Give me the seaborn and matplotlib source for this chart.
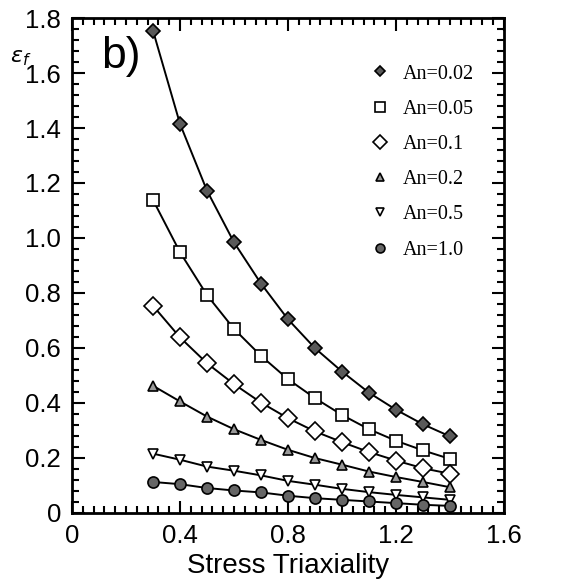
import numpy as np
import pandas as pd
import matplotlib
matplotlib.use("Agg")
import matplotlib.pyplot as plt
from matplotlib.lines import Line2D
from matplotlib.ticker import MultipleLocator, FixedFormatter, FixedLocator
import seaborn as sns

# stress triaxiality values
triax = [0.3, 0.4, 0.5, 0.6, 0.7, 0.8, 0.9, 1.0, 1.1, 1.2, 1.3, 1.4]

# failure strain for each An
an_002 = [1.754, 1.415, 1.172, 0.984, 0.834, 0.704, 0.599, 0.514, 0.437, 0.375, 0.322, 0.278]
an_005 = [1.138, 0.948, 0.792, 0.669, 0.571, 0.486, 0.417, 0.356, 0.304, 0.262, 0.227, 0.196]
an_01 = [0.753, 0.638, 0.544, 0.468, 0.401, 0.344, 0.296, 0.257, 0.221, 0.190, 0.162, 0.142]
an_02 = [0.462, 0.405, 0.350, 0.304, 0.265, 0.229, 0.199, 0.175, 0.150, 0.130, 0.112, 0.093]
an_05 = [0.215, 0.193, 0.168, 0.153, 0.136, 0.116, 0.102, 0.087, 0.075, 0.065, 0.056, 0.047]
an_10 = [0.112, 0.104, 0.090, 0.081, 0.074, 0.062, 0.053, 0.047, 0.041, 0.035, 0.029, 0.025]

labels = ["An=0.02", "An=0.05", "An=0.1", "An=0.2", "An=0.5", "An=1.0"]
series = [an_002, an_005, an_01, an_02, an_05, an_10]

x_ticks = [0, 0.4, 0.8, 1.2, 1.6]
x_tick_labels = ["0", "0.4", "0.8", "1.2", "1.6"]
y_ticks = [0, 0.2, 0.4, 0.6, 0.8, 1.0, 1.2, 1.4, 1.6, 1.8]
y_tick_labels = ["0", "0.2", "0.4", "0.6", "0.8", "1.0", "1.2", "1.4", "1.6", "1.8"]

# marker styles: (marker, size, facecolor)
styles = [
    ("D", 7, "0.35"),
    ("s", 9, "white"),
    ("D", 9, "white"),
    ("^", 7, "0.6"),
    ("v", 7, "white"),
    ("o", 8, "0.4"),
]

sns.set_style("ticks")
plt.rcParams["font.family"] = ["Liberation Sans", "DejaVu Sans"]
plt.rcParams["text.color"] = "black"
plt.rcParams["axes.labelcolor"] = "black"
plt.rcParams["xtick.color"] = "black"
plt.rcParams["ytick.color"] = "black"

fig = plt.figure(figsize=(5.63, 5.84), dpi=100)
ax = fig.add_axes([0.128, 0.122, 0.767, 0.847])

for label, values, (mk, ms, fc) in zip(labels, series, styles):
    df = pd.DataFrame({"x": triax, "y": values})
    sns.lineplot(
        data=df, x="x", y="y", ax=ax,
        color="black", linewidth=1.4,
        marker=mk, markersize=ms,
        markerfacecolor=fc, markeredgecolor="black",
        markeredgewidth=1.2,
    )

ax.set_xlim(0, 1.6)
ax.set_ylim(0, 1.8)

ax.xaxis.set_major_locator(FixedLocator(x_ticks))
ax.xaxis.set_major_formatter(FixedFormatter(x_tick_labels))
ax.yaxis.set_major_locator(FixedLocator(y_ticks))
ax.yaxis.set_major_formatter(FixedFormatter(y_tick_labels))
ax.xaxis.set_minor_locator(MultipleLocator(0.04))
ax.yaxis.set_minor_locator(MultipleLocator(0.04))

ax.tick_params(which="both", direction="in", top=True, right=True,
               width=1.5, color="black", labelcolor="black")
ax.tick_params(which="major", length=9, labelsize=18.5, pad=8)
ax.tick_params(which="minor", length=5)

for spine in ax.spines.values():
    spine.set_linewidth(2)
    spine.set_color("black")

ax.set_xlabel("Stress Triaxiality", fontsize=20, labelpad=4)
ax.set_ylabel("")

fig.text(0.018, 0.893, r"$\varepsilon_f$", fontsize=16)
ax.text(0.068, 0.899, "b)", transform=ax.transAxes, fontsize=32)

handles = []
for (mk, ms, fc) in styles:
    handles.append(Line2D([], [], linestyle="none", marker=mk,
                          markersize=ms * 0.8, markerfacecolor=fc,
                          markeredgecolor="black", markeredgewidth=1.2))

ax.legend(handles, labels, loc="upper left", bbox_to_anchor=(0.644, 0.943),
          frameon=False, handlelength=1.2, handletextpad=0.5,
          labelspacing=0.8,
          prop={"family": "Liberation Serif", "size": 14.5})

fig.savefig("out.png", dpi=100)
